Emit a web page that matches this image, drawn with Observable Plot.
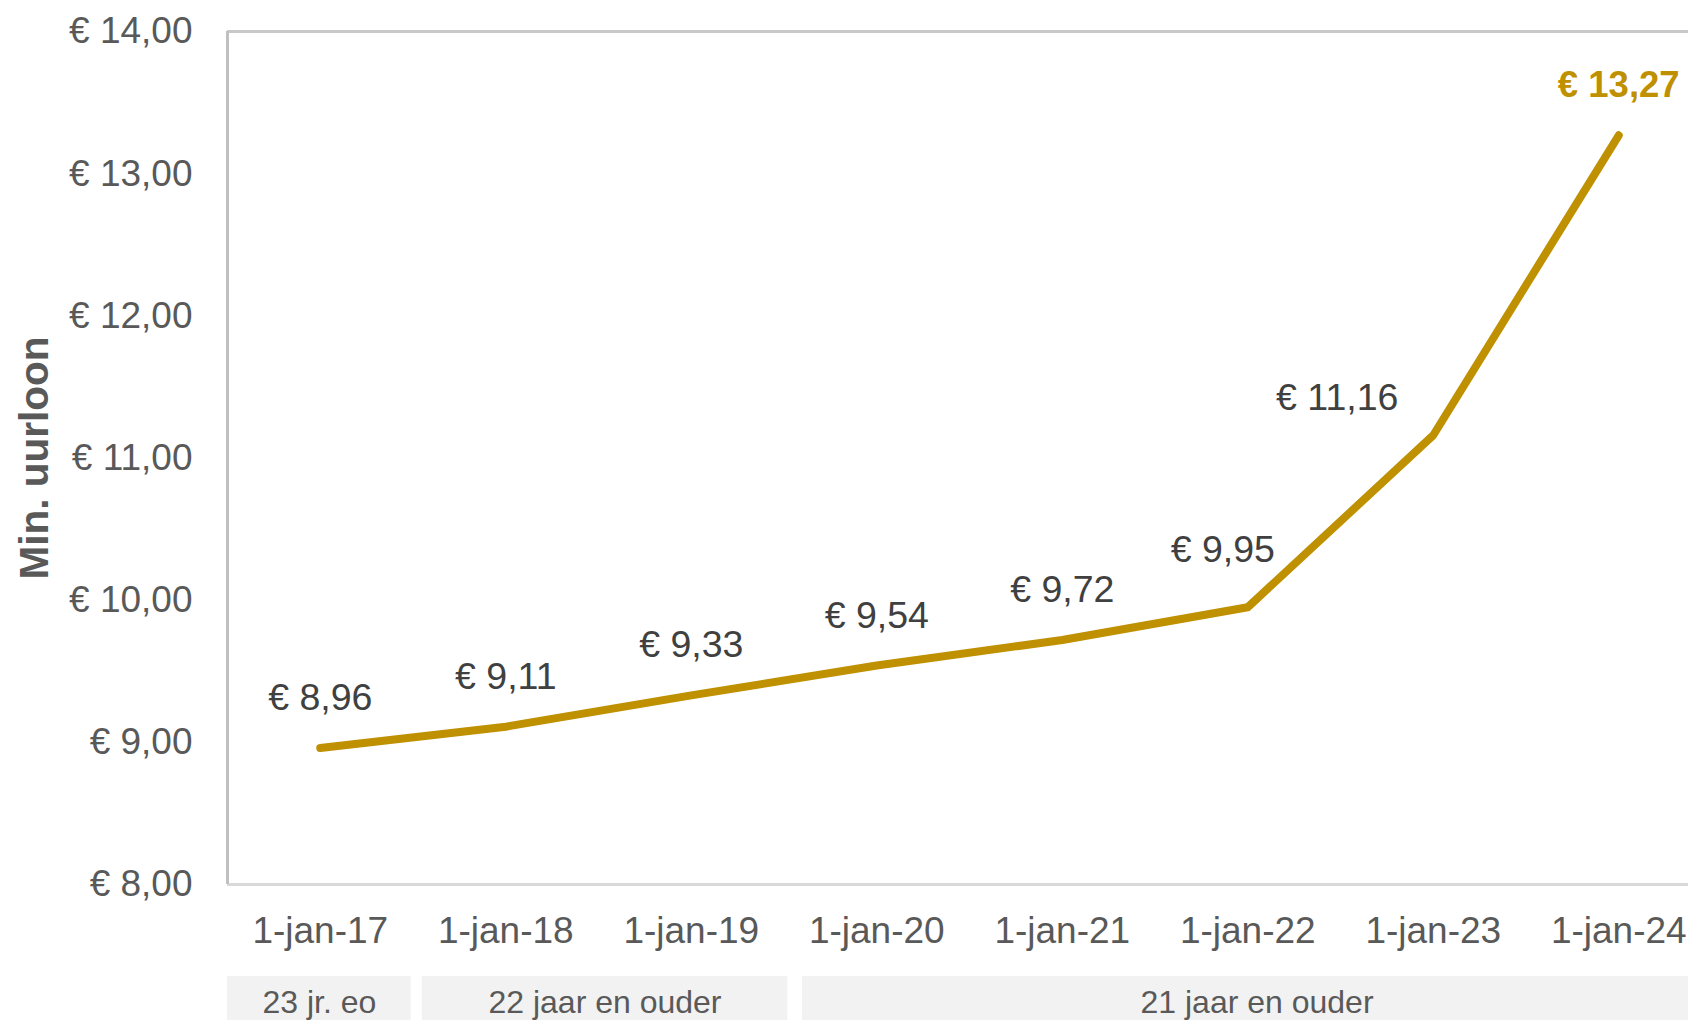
<!DOCTYPE html>
<html>
<head>
<meta charset="utf-8">
<script src="https://cdn.jsdelivr.net/npm/d3@7"></script>
<script src="https://cdn.jsdelivr.net/npm/@observablehq/plot@0.6"></script>
<style>
  html, body { margin: 0; padding: 0; background: #ffffff; overflow: hidden; width: 1688px; height: 1020px; }
  #chart { width: 1688px; overflow: hidden; }
  #chart svg { display: block; max-width: none !important; }
</style>
</head>
<body>
<div id="chart"></div>
<script>
const years = [2017, 2018, 2019, 2020, 2021, 2022, 2023, 2024];
const tickLabels = ["1-jan-17", "1-jan-18", "1-jan-19", "1-jan-20", "1-jan-21", "1-jan-22", "1-jan-23", "1-jan-24"];
const values = [8.96, 9.11, 9.33, 9.54, 9.72, 9.95, 11.16, 13.27];
const valueLabels = ["€ 8,96", "€ 9,11", "€ 9,33", "€ 9,54", "€ 9,72", "€ 9,95", "€ 11,16", "€ 13,27"];
const yTicks = [8, 9, 10, 11, 12, 13, 14];
const groupLabels = ["23 jr. eo", "22 jaar en ouder", "21 jaar en ouder"];
const groupStart = [2016.5, 2017.55, 2019.6];
const groupEnd = [2017.49, 2019.52, 2024.5];
const yTitle = "Min. uurloon";

const FONT = "'Liberation Sans', Arial, sans-serif";
const GOLD = "#BF9000";

const data = years.map((year, i) => ({year, value: values[i], label: valueLabels[i]}));
const groups = groupLabels.map((label, i) => ({label, start: groupStart[i], end: groupEnd[i]}));

const W = 1711, ML = 227;
const xDomain = [2016.5, 2024.5];

const main = Plot.plot({
  width: W, height: 970,
  marginLeft: ML, marginRight: 0, marginTop: 31, marginBottom: 86,
  style: {fontFamily: FONT, fontSize: "37px", color: "#595959", background: "white", overflow: "visible"},
  x: {type: "linear", domain: xDomain, ticks: years,
      tickFormat: d => tickLabels[years.indexOf(d)], tickSize: 0, tickPadding: 32, label: null},
  y: {domain: [8, 14], ticks: yTicks,
      tickFormat: d => "€ " + d.toFixed(2).replace(".", ","), tickSize: 0, tickPadding: 35, label: null},
  marks: [
    Plot.ruleY([14], {stroke: "#c8c8c8", strokeWidth: 3}),
    Plot.ruleY([8], {stroke: "#d9d9d9", strokeWidth: 3}),
    Plot.ruleX([xDomain[0]], {stroke: "#c0c0c0", strokeWidth: 3}),
    Plot.lineY(data, {x: "year", y: "value", stroke: GOLD, strokeWidth: 8,
      strokeLinecap: "round", strokeLinejoin: "round"}),
    Plot.text(data, {filter: (d, i) => i < 5, x: "year", y: "value", text: "label",
      dy: -50, fill: "#404040", fontSize: 37.5}),
    Plot.text(data, {filter: (d, i) => i === 5, x: "year", y: "value", text: "label",
      dx: -25, dy: -57, fill: "#404040", fontSize: 37.5}),
    Plot.text(data, {filter: (d, i) => i === 6, x: "year", y: "value", text: "label",
      dx: -96, dy: -37, fill: "#404040", fontSize: 37.5}),
    Plot.text(data, {filter: (d, i) => i === 7, x: "year", y: "value", text: "label",
      dy: -50, fill: GOLD, fontSize: 36.5, fontWeight: "bold"}),
    Plot.text([yTitle], {frameAnchor: "left", textAnchor: "middle", rotate: -90, dx: -192, dy: 0,
      fontWeight: "bold", fontSize: 40.5, fill: "#595959"})
  ]
});

const strip = Plot.plot({
  width: W, height: 66,
  marginLeft: ML, marginRight: 0, marginTop: 6, marginBottom: 0,
  style: {fontFamily: FONT, fontSize: "32px", color: "#595959", background: "white"},
  x: {domain: xDomain, axis: null},
  marks: [
    Plot.rect(groups, {x1: "start", x2: "end", fill: "#f2f2f2"}),
    Plot.text(groups, {x: d => (d.start + d.end) / 2, text: "label", frameAnchor: "middle",
      dy: -4, fontSize: 32, fill: "#595959"})
  ]
});

const el = document.getElementById("chart");
el.appendChild(main);
el.appendChild(strip);
</script>
</body>
</html>
